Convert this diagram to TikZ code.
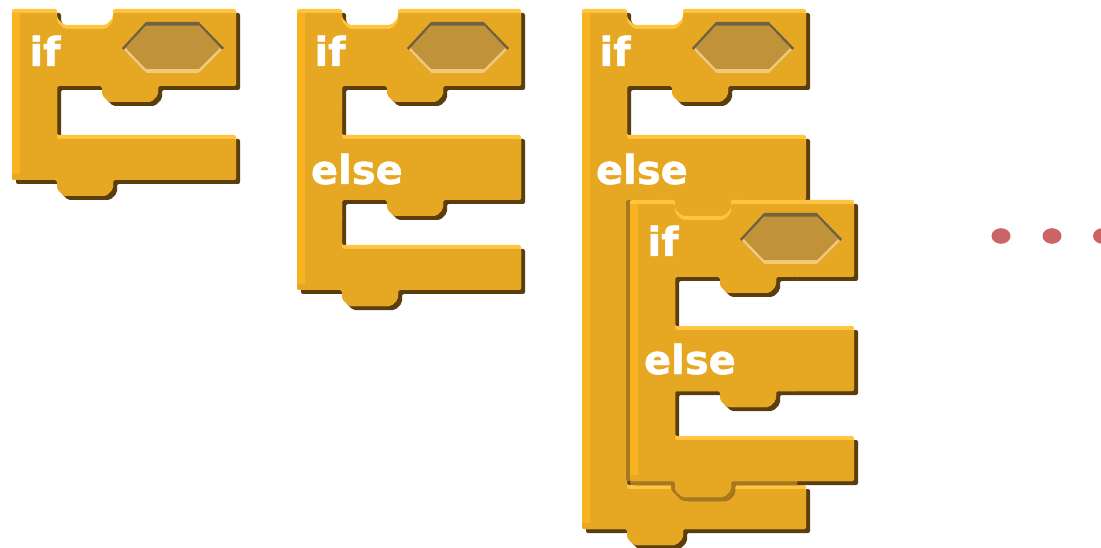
\documentclass[tikz,border=0pt]{standalone}
\usepackage{fontspec}
\newfontfamily\blkfont{DejaVu Sans Bold}[FakeBold=1.2]
\definecolor{mainc}{HTML}{E6A822}
\definecolor{topc}{HTML}{FFC440}
\definecolor{leftc}{HTML}{F8B320}
\definecolor{shadowc}{HTML}{5A3E0E}
\definecolor{midc}{HTML}{A77820}
\definecolor{hexc}{HTML}{C0933A}
\definecolor{hexdark}{HTML}{736140}
\definecolor{hexlight}{HTML}{F3C978}
\definecolor{dotc}{HTML}{CB6565}
\def\notchR{-- ++(0,9) -- ++(7,7) -- ++(42,0) -- ++(7,-7) -- ++(0,-9)}
\def\tabL{-- ++(0,9) -- ++(-7,7) -- ++(-42,0) -- ++(-7,-7) -- ++(0,-9)}
\newcommand{\condshape}[2]{(#1,#2) -- ++(45,0) \notchR -- ++(123,0) -- ++(0,77) -- ++(-78,0) \tabL -- ++(-45,0) -- ++(0,49) -- ++(179,0) -- ++(0,45) -- ++(-123,0) \tabL -- ++(-45,0) -- cycle}
\newcommand{\condelseshape}[5]{(#1,#2) -- ++(45,0) \notchR -- ++(123,0) -- ++(0,77) -- ++(-78,0) \tabL -- ++(-45,0) -- ++(0,49) -- ++(179,0) -- ++(0,#3) -- ++(-78,0) \tabL -- ++(-45,0) -- ++(0,#4) -- ++(179,0) -- ++(0,#5) -- ++(-123,0) \tabL -- ++(-45,0) -- cycle}
\newcommand{\hexpath}[2]{(#1,#2+26) -- ++(24,-26) -- ++(53,0) -- ++(25,26) -- ++(-25,25) -- ++(-53,0) -- cycle}
\newcommand{\blockshadow}[1]{\fill[shadowc, blk, shift={(4,4)}] #1;}
\newcommand{\blockbody}[4]{%
  \begin{scope}
    \clip[blk] #1;
    \fill[topc] (0,0) rectangle (1101,548);
    \fill[mainc, blk, shift={(0,4)}] #1;
    \fill[leftc] (#2,#3) rectangle (#2+8,#4);
  \end{scope}}
\newcommand{\hexslot}[2]{%
  \begin{scope}
    \clip \hexpath{#1}{#2};
    \fill[hexdark] \hexpath{#1}{#2};
    \fill[hexlight, shift={(0,4)}] \hexpath{#1}{#2};
    \begin{scope}
      \clip[shift={(0,4)}] \hexpath{#1}{#2};
      \fill[hexc, shift={(0,-4)}] \hexpath{#1}{#2};
    \end{scope}
  \end{scope}}
\begin{document}
\begin{tikzpicture}[x=1pt,y=-1pt,
  blk/.style={rounded corners=2pt},
  lbl/.style={anchor=base west, inner sep=0pt, outer sep=0pt, text=white,
    font=\blkfont\fontsize{40}{40}\selectfont}]
\fill[white] (0,0) rectangle (1101,548);
\useasboundingbox (0,0) rectangle (1101,548);
\clip (0,0) rectangle (1101,548);

% block 1: if
\blockshadow{\condshape{12}{9}}
\blockbody{\condshape{12}{9}}{12}{13}{174}
\hexslot{122}{22}
\node[lbl] (if1) at (29.5,66) {if};

% block 2: if / else
\blockshadow{\condelseshape{297}{9}{65}{45}{45}}
\blockbody{\condelseshape{297}{9}{65}{45}{45}}{297}{13}{284}
\hexslot{407}{22}
\node[lbl] (if2) at (314.5,66) {if};
\node[lbl] (else2) at (311,184) {else};

% block 3: outer if / else
\blockshadow{\condelseshape{582}{9}{65}{285}{44}}
\blockbody{\condelseshape{582}{9}{65}{285}{44}}{582}{13}{523}
\hexslot{692}{22}
\node[lbl] (if3) at (599.5,66) {if};
\node[lbl] (else3) at (596,184) {else};

% block 4: nested if / else
\blockshadow{\condelseshape{630}{200}{65}{45}{45}}
\begin{scope}[even odd rule]
  \clip (582,190) rectangle (797,548) (675,277) rectangle (797,326) (675,391) rectangle (797,436);
  \fill[midc, blk, shift={(-4,0)}] \condelseshape{630}{200}{65}{45}{45};
  \fill[midc, blk, shift={(0,4)}] \condelseshape{630}{200}{65}{45}{45};
  \fill[midc, blk, shift={(4,4)}] \condelseshape{630}{200}{65}{45}{45};
\end{scope}
\fill[mainc] (660,196) rectangle (745,220);
\blockbody{\condelseshape{630}{200}{65}{45}{45}}{630}{204}{475}
\hexslot{740}{213}
\node[lbl] (if4) at (647.5,256) {if};
\node[lbl] (else4) at (644,374) {else};

% dots
\fill[dotc] (1001,236) ellipse [x radius=9.5pt, y radius=7.8pt];
\fill[dotc] (1052,236) ellipse [x radius=9.5pt, y radius=7.8pt];
\fill[dotc] (1102.5,236) ellipse [x radius=9.5pt, y radius=7.8pt];
\end{tikzpicture}
\end{document}
